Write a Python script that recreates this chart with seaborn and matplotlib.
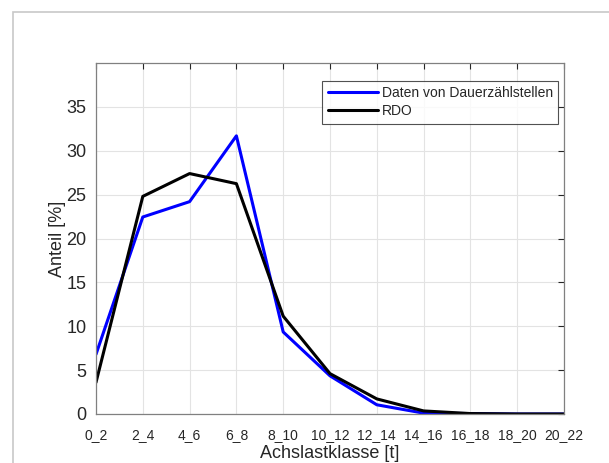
"""
Achslastverteilung: Dauerzählstellen vs. RDO als Linienplot
"""

import matplotlib
matplotlib.use("Agg")
import matplotlib.pyplot as plt
import pandas as pd
import seaborn as sns
from matplotlib.patches import Rectangle

# ============== DATA ==============
KLASSEN = ["0_2", "2_4", "4_6", "6_8", "8_10", "10_12",
           "12_14", "14_16", "16_18", "18_20", "20_22"]
DAUERZAEHL = [6.8, 22.45, 24.2, 31.7, 9.35, 4.35, 1.05, 0.1, 0.05, 0.0, 0.0]
RDO = [3.6, 24.8, 27.4, 26.25, 11.15, 4.6, 1.72, 0.35, 0.05, 0.0, 0.0]
SERIEN = ["Daten von Dauerzählstellen", "RDO"]
Y_TICKS = [0, 5, 10, 15, 20, 25, 30, 35]
# ==================================

df = pd.DataFrame({
    "Klasse": KLASSEN * 2,
    "Anteil": DAUERZAEHL + RDO,
    "Quelle": [SERIEN[0]] * len(KLASSEN) + [SERIEN[1]] * len(KLASSEN),
})

sns.set_style("white")
plt.rcParams["font.family"] = ["Liberation Sans", "DejaVu Sans"]

fig = plt.figure(figsize=(6.09, 4.63), dpi=100)
ax = fig.add_axes([96 / 609, 1 - 414 / 463, (564 - 96) / 609, (414 - 63) / 463])

# grauer Rahmen um die Figure (MATLAB-Export)
fig.patches.append(Rectangle((13 / 609, -0.1), 1.2, 1 - 12.5 / 463 + 0.1,
                             transform=fig.transFigure, fill=False,
                             edgecolor="#c8c8c8", linewidth=1.2, zorder=0))

sns.lineplot(data=df, x="Klasse", y="Anteil", hue="Quelle", hue_order=SERIEN,
             palette=["#0000ff", "#000000"], linewidth=2.2, sort=False, ax=ax)

ax.set_xlim(0, len(KLASSEN) - 1)
ax.set_ylim(0, 40)
ax.set_yticks(Y_TICKS)
ax.tick_params(axis="y", labelsize=13, colors="#262626", direction="in",
               length=4, right=True, width=0.8, pad=7)
ax.tick_params(axis="x", labelsize=10, colors="#262626", direction="in",
               length=4, top=True, width=0.8, pad=10)
ax.grid(True, color="#e3e3e3", linewidth=0.8)
for sp in ax.spines.values():
    sp.set_color("#808080")
    sp.set_linewidth(0.9)
    sp.set_visible(True)

ax.set_xlabel("Achslastklasse [t]", fontsize=13, color="#262626", labelpad=2)
ax.set_ylabel("Anteil [%]", fontsize=13, color="#262626", labelpad=0)

leg = ax.legend(loc="upper right", bbox_to_anchor=(0.988, 0.95), fontsize=10,
                frameon=True, fancybox=False, handlelength=3.6,
                borderpad=0.4, labelspacing=0.3, handletextpad=0.3,
                borderaxespad=0)
leg.get_frame().set_edgecolor("#262626")
leg.get_frame().set_linewidth(0.8)
leg.set_title(None)

fig.savefig("out.png", dpi=100)
plt.close(fig)
